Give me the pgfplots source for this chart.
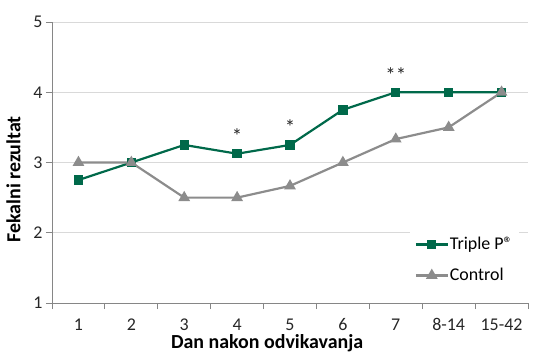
\documentclass[border=0pt]{standalone}
\usepackage{pgfplots}
\pgfplotsset{compat=1.18}
\usepackage{fontspec}
\setmainfont{Carlito}
\definecolor{tgreen}{HTML}{00694A}
\definecolor{cgray}{HTML}{8C8C8C}
\definecolor{gridc}{HTML}{D9D9D9}
\definecolor{axc}{HTML}{868686}
\begin{document}
\begin{tikzpicture}
\path[use as bounding box] (-52bp,-57bp) rectangle (498bp,303bp);
\begin{axis}[
  at={(0,0)}, anchor=south west,
  scale only axis, width=476bp, height=281bp,
  xmin=0.5, xmax=9.5, ymin=1, ymax=5,
  xtick={1,...,9},
  xticklabels={1,2,3,4,5,6,7,8-14,15-42},
  minor xtick={0.5,1.5,...,9.5},
  ytick={1,2,3,4,5},
  major x tick style={draw=none},
  minor tick length=6bp,
  major tick length=6bp,
  tick align=outside,
  xtick pos=bottom, ytick pos=left,
  axis x line*=bottom, axis y line*=left,
  axis line style={axc, line width=0.8pt},
  every tick/.style={axc, line width=0.8pt},
  ymajorgrids, grid style={gridc, line width=0.8pt},
  tick label style={font=\fontsize{18}{21}\selectfont, text=black!85},
  /pgf/number format/assume math mode=true,
  xticklabel style={yshift=-6bp},
  yticklabel style={xshift=0bp},
  xlabel={Dan nakon odvikavanja},
  ylabel={Fekalni rezultat},
  label style={font=\bfseries\fontsize{20}{22}\selectfont},
  xlabel style={at={(axis description cs:0.452,0)}, anchor=north, yshift=-28bp},
  ylabel style={at={(axis description cs:0,0.44)}, anchor=south, yshift=28bp},
  legend style={at={(axis description cs:0.981,0.28)}, anchor=north east,
    draw=none, fill=white, font=\fontsize{18}{21}\selectfont,
    row sep=13bp, inner xsep=5bp, inner ysep=11bp,
    nodes={inner xsep=1bp}},
  legend cell align=left,
  legend image code/.code={\draw[mark repeat=2,mark phase=2] plot coordinates {(0bp,0bp)(16bp,0bp)(32bp,0bp)};},
  clip=false,
]
\addplot[tgreen, line width=2.2bp, mark=square*, mark size=3.6bp, mark options={solid}]
  coordinates {(1,2.75)(2,3)(3,3.25)(4,3.125)(5,3.25)(6,3.75)(7,4)(8,4)(9,4)};
\addlegendentry{Triple P®}
\addplot[cgray, line width=2.2bp, mark=triangle*, mark size=4.6bp, mark options={solid}]
  coordinates {(1,3)(2,3)(3,2.5)(4,2.5)(5,2.6667)(6,3)(7,3.3333)(8,3.5)(9,4)};
\addlegendentry{Control}
\node[font=\fontsize{21}{24}\selectfont, text=black!85] at (axis cs:4,3.38) {*};
\node[font=\fontsize{21}{24}\selectfont, text=black!85] at (axis cs:5,3.51) {*};
\node[font=\fontsize{21}{24}\selectfont, text=black!85] at (axis cs:7,4.25) {**};
\end{axis}
\end{tikzpicture}
\end{document}
